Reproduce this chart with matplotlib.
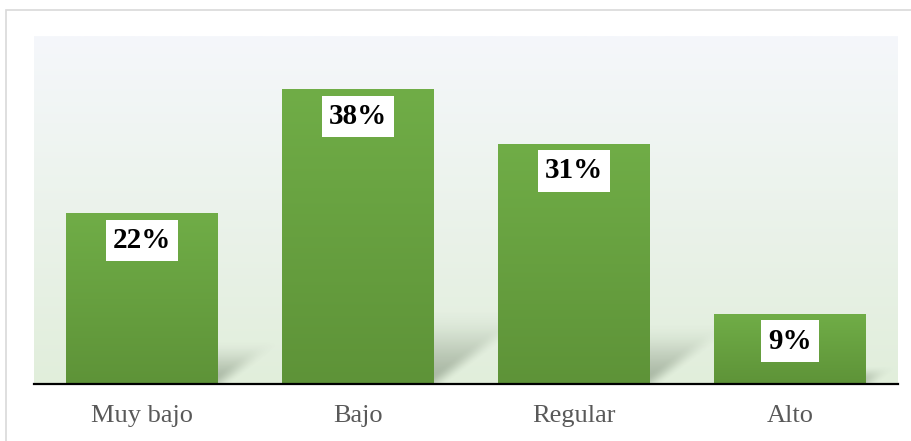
import matplotlib.pyplot as plt
import numpy as np
from matplotlib.patches import Rectangle
from matplotlib.colors import LinearSegmentedColormap

categories = ["Muy bajo", "Bajo", "Regular", "Alto"]
values = [22, 38, 31, 9]
labels = ["22%", "38%", "31%", "9%"]

plt.rcParams['font.family'] = ['Liberation Serif', 'DejaVu Serif']

fig = plt.figure(figsize=(9.12, 4.41), dpi=100)
# outer chart border
fig.patches.append(Rectangle((6/912, -0.05), 1.0, 1 - 10/441 + 0.05, transform=fig.transFigure,
                             fill=False, edgecolor='#d9d9d9', linewidth=1.2))

ax = fig.add_axes([34/912, 57/441, 864/912, 348/441])
x = np.arange(len(categories))
w = 0.70
ymax = 44.9

# plot-area background gradient
bg = LinearSegmentedColormap.from_list('bg', ['#e1eedb', '#f5f7fb'])
ax.imshow(np.linspace(0, 1, 256).reshape(-1, 1), cmap=bg, aspect='auto', origin='lower',
          extent=[0, 1, 0, 1], transform=ax.transAxes, zorder=0)

# soft perspective shadows, drawn as an alpha image
gx = np.linspace(-0.5, len(categories) - 0.5, 1200)
gy = np.linspace(0, ymax, 500)
GX, GY = np.meshgrid(gx, gy)
alpha = np.zeros_like(GX)
for xi, v in zip(x, values):
    h = 0.26 * v
    sx = 0.0125 * v
    u = GY / h
    xs = GX - sx * u
    d = xs - (xi + w/2)
    edge = np.clip(0.5 - d / 0.12, 0, 1)
    edge = edge * edge * (3 - 2 * edge)
    left = np.clip((xs - (xi - w/2)) / 0.05, 0, 1)
    fade = np.clip(1 - u, 0, 1)
    fade = fade * fade * (3 - 2 * fade)
    alpha = np.maximum(alpha, 0.42 * edge * left * fade)
shadow = np.zeros(GX.shape + (4,))
shadow[..., 0] = 0.36
shadow[..., 1] = 0.42
shadow[..., 2] = 0.34
shadow[..., 3] = alpha
ax.imshow(shadow, aspect='auto', origin='lower', extent=[gx[0], gx[-1], 0, ymax],
          zorder=1, interpolation='bilinear')

# bars with vertical gradient
bar_cmap = LinearSegmentedColormap.from_list('bar', ['#5e9338', '#70ad47'])
bars = ax.bar(x, values, width=w, color='#68a042', zorder=2)
for b in bars:
    im = ax.imshow(np.linspace(0, 1, 256).reshape(-1, 1), cmap=bar_cmap, aspect='auto',
                   origin='lower',
                   extent=[b.get_x(), b.get_x() + b.get_width(), 0, b.get_height()], zorder=3)
    im.set_clip_path(b)

for xi, v, lab in zip(x, values, labels):
    ax.annotate(lab, (xi, v), xytext=(0, -27), textcoords='offset pixels',
                ha='center', va='center', fontsize=21, fontweight='bold', color='black',
                bbox=dict(boxstyle='square,pad=0.25', facecolor='white', edgecolor='none'),
                zorder=5)

ax.set_xlim(-0.5, len(categories) - 0.5)
ax.set_ylim(0, ymax)
ax.set_xticks(x)
ax.set_xticklabels(categories, fontsize=19, color='#595959')
ax.tick_params(axis='x', length=0, pad=15)
ax.set_yticks([])
for s in ['top', 'right', 'left']:
    ax.spines[s].set_visible(False)
ax.spines['bottom'].set_linewidth(1.6)
ax.spines['bottom'].set_color('black')
ax.spines['bottom'].set_zorder(6)

plt.savefig('out.png', dpi=100)
